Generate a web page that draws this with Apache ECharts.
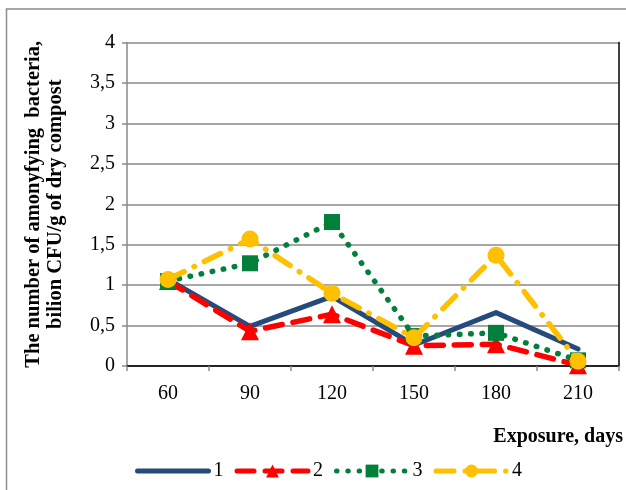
<!DOCTYPE html>
<html>
<head>
<meta charset="utf-8">
<script src="https://cdn.jsdelivr.net/npm/echarts@6/dist/echarts.min.js"></script>
<style>
  html, body { margin: 0; padding: 0; background: #fff; }
  #chart { width: 626px; height: 490px; }
</style>
</head>
<body>
<div id="chart"></div>
<script>
// Exposure days on the x axis
const days = ['60', '90', '120', '150', '180', '210'];

// Ammonifying bacteria counts, billion CFU/g of dry compost
const series1 = [1.07, 0.49, 0.86, 0.26, 0.66, 0.21];
const series2 = [1.05, 0.43, 0.64, 0.25, 0.27, 0.01];
const series3 = [1.05, 1.27, 1.78, 0.37, 0.41, 0.07];
const series4 = [1.07, 1.57, 0.90, 0.35, 1.37, 0.06];

const seriesNames = ['1', '2', '3', '4'];

const serif = "'Liberation Serif', 'Times New Roman', serif";
const gridGray = '#8a8a8a';

const chart = echarts.init(document.getElementById('chart'), null, { renderer: 'canvas' });

chart.setOption({
  animation: false,
  backgroundColor: '#ffffff',
  grid: { left: 127, right: 5, top: 42.5, bottom: 124, containLabel: false },
  graphic: [{
    type: 'rect',
    shape: { x: 6.5, y: 9, width: 700, height: 600 },
    style: { fill: 'none', stroke: '#8c8c8c', lineWidth: 1.5 },
    silent: true, z: -10
  }],
  legend: {
    left: 130,
    top: 456,
    itemWidth: 71,
    itemHeight: 16,
    itemGap: 11,
    lineStyle: { width: 5 },
    textStyle: { fontFamily: serif, fontSize: 20, color: '#000' },
    data: [
      { name: seriesNames[0], itemStyle: { opacity: 0 } },
      { name: seriesNames[1] },
      { name: seriesNames[2] },
      { name: seriesNames[3] }
    ]
  },
  xAxis: [{
    type: 'category',
    data: days,
    boundaryGap: true,
    axisLine: { lineStyle: { color: gridGray, width: 1.5 } },
    axisTick: { show: true, length: 5, lineStyle: { color: gridGray, width: 1.5 } },
    axisLabel: { fontFamily: serif, fontSize: 20, color: '#000', margin: 18 },
    name: 'Exposure, days',
    nameLocation: 'end',
    nameGap: 4,
    nameTextStyle: {
      fontFamily: serif, fontSize: 20, fontWeight: 'bold', color: '#000',
      align: 'right', verticalAlign: 'top', padding: [61, 0, 0, 0]
    }
  }, {
    type: 'category',
    data: days,
    position: 'top',
    axisLine: { lineStyle: { color: '#000', width: 1.5 } },
    axisTick: { show: false },
    axisLabel: { show: false }
  }],
  yAxis: [{
    type: 'value',
    min: 0,
    max: 4,
    interval: 0.5,
    axisLine: { show: true, lineStyle: { color: gridGray, width: 1.5 } },
    axisTick: { show: true, length: 5, lineStyle: { color: gridGray, width: 1.5 } },
    splitLine: { show: true, lineStyle: { color: gridGray, width: 1.5 } },
    axisLabel: {
      fontFamily: serif, fontSize: 20, color: '#000', margin: 12,
      formatter: v => String(v).replace('.', ',')
    },
    name: 'The number of amonyfying  bacteria,\nbilion CFU/g of dry compost',
    nameLocation: 'middle',
    nameRotate: 90,
    nameGap: 60,
    nameTextStyle: {
      fontFamily: serif, fontSize: 20.5, fontWeight: 'bold', color: '#000', lineHeight: 22
    }
  }, {
    type: 'value',
    min: 0,
    max: 4,
    interval: 0.5,
    position: 'right',
    axisLine: { show: true, lineStyle: { color: '#000', width: 1.5 } },
    axisTick: { show: false },
    axisLabel: { show: false },
    splitLine: { show: false }
  }],
  series: [{
    name: seriesNames[0],
    type: 'line',
    data: series1,
    symbol: 'circle',
    symbolSize: 1,
    showSymbol: false,
    color: '#254b7d',
    lineStyle: { color: '#254b7d', width: 5, cap: 'round', join: 'round' },
    z: 2
  }, {
    name: seriesNames[1],
    type: 'line',
    data: series2,
    symbol: 'triangle',
    symbolSize: 18,
    color: '#ff0000',
    itemStyle: { color: '#ff0000' },
    lineStyle: { color: '#ff0000', width: 5.5, type: [17, 11], cap: 'round' },
    z: 3
  }, {
    name: seriesNames[2],
    type: 'line',
    data: series3,
    symbol: 'rect',
    symbolSize: 16,
    color: '#00803b',
    itemStyle: { color: '#00803b' },
    lineStyle: { color: '#00803b', width: 5.5, type: [0.5, 10.8], cap: 'round' },
    z: 4
  }, {
    name: seriesNames[3],
    type: 'line',
    data: series4,
    symbol: 'circle',
    symbolSize: 17,
    color: '#ffc000',
    itemStyle: { color: '#ffc000' },
    lineStyle: { color: '#ffc000', width: 5.5, type: [18, 11, 0.5, 11], cap: 'round' },
    z: 5
  }]
});
</script>
</body>
</html>
